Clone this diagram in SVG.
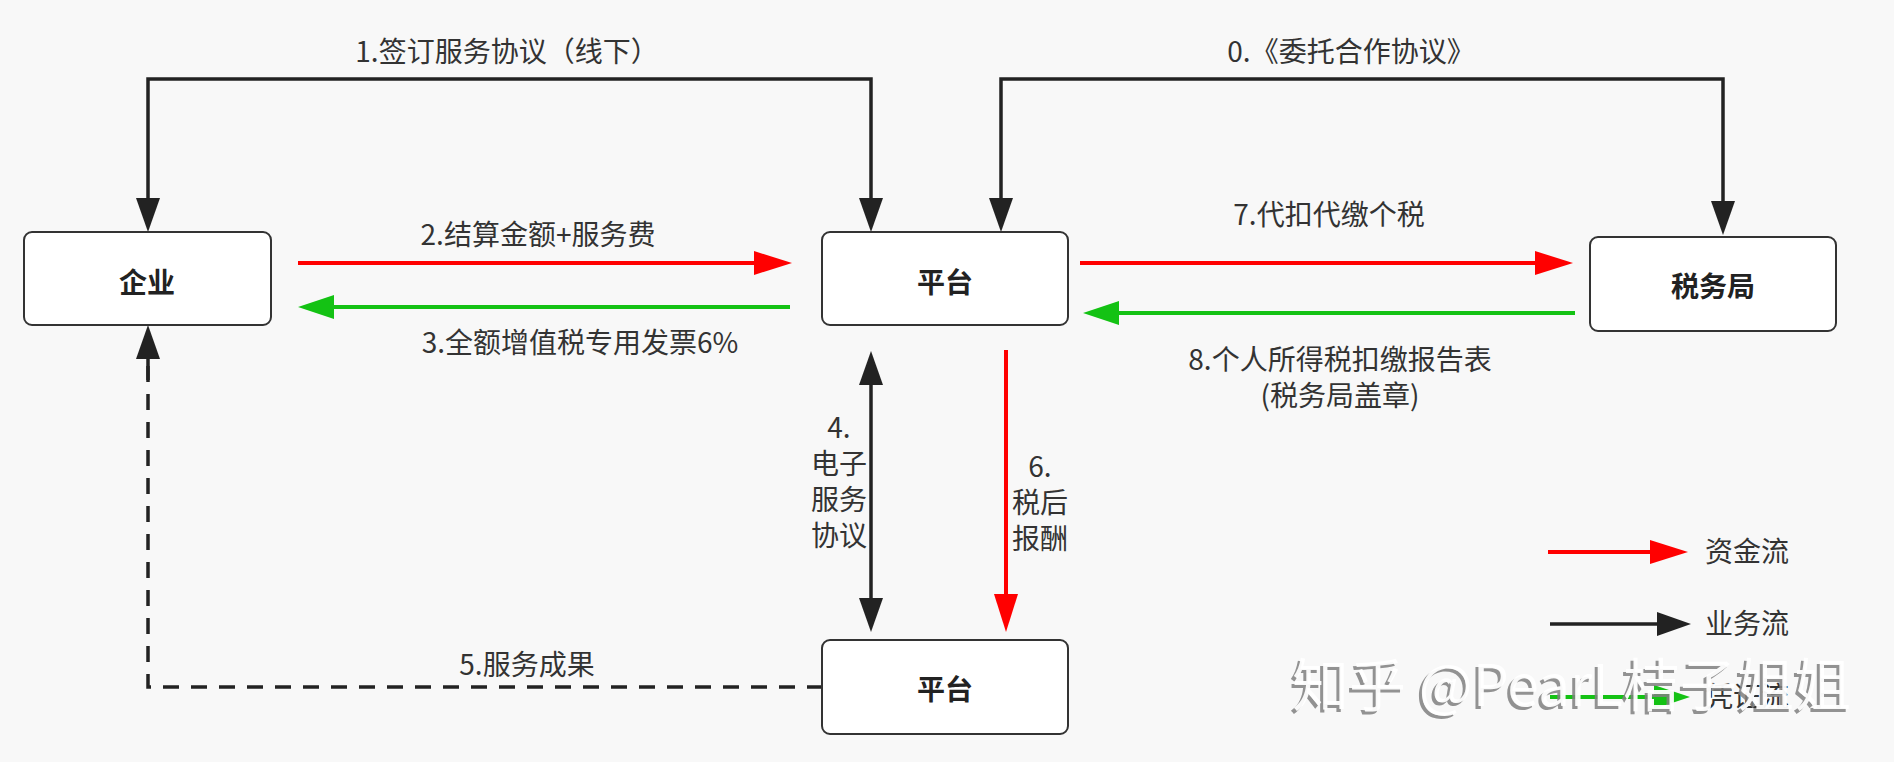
<svg xmlns="http://www.w3.org/2000/svg" width="1894" height="762" viewBox="0 0 1894 762">
<style>
.box{fill:#fff;stroke:#333;stroke-width:2}
.nt{font-family:"Noto Sans CJK SC","Noto Sans",sans-serif;font-size:28px;font-weight:bold;fill:#222;text-anchor:middle}
.lb{font-family:"Noto Sans CJK SC","Noto Sans",sans-serif;font-size:28px;fill:#333;text-anchor:middle}
.lg{font-family:"Noto Sans CJK SC","Noto Sans",sans-serif;font-size:28px;fill:#333}
.k{fill:none;stroke:#222;stroke-width:3.5}
.r{fill:none;stroke:#ff0000;stroke-width:4}
.g{fill:none;stroke:#14c214;stroke-width:4}
.d{fill:none;stroke:#222;stroke-width:3.5;stroke-dasharray:16 12}
.wm{font-family:"Noto Sans CJK SC","Noto Sans",sans-serif;font-size:57px}
</style>
<defs>
<marker id="ak" markerUnits="userSpaceOnUse" markerWidth="34" markerHeight="24" refX="24" refY="12" orient="auto-start-reverse"><path d="M0,0 L34,12 L0,24 z" fill="#222"/></marker>
<marker id="ar" markerUnits="userSpaceOnUse" markerWidth="38" markerHeight="24" refX="28" refY="12" orient="auto"><path d="M0,0 L38,12 L0,24 z" fill="#ff0000"/></marker>
<marker id="ag" markerUnits="userSpaceOnUse" markerWidth="36" markerHeight="24" refX="26" refY="12" orient="auto"><path d="M0,0 L36,12 L0,24 z" fill="#14c214"/></marker>
</defs>
<rect x="0" y="0" width="1894" height="762" fill="#f8f8f8"/>

<g id="connectors">
<path class="k" d="M148,222 V79 H871 V222" marker-start="url(#ak)" marker-end="url(#ak)"/>
<path class="k" d="M1001,222 V79 H1723 V225" marker-start="url(#ak)" marker-end="url(#ak)"/>
<path class="r" d="M298,263 H782" marker-end="url(#ar)"/>
<path class="g" d="M790,307 H308" marker-end="url(#ag)"/>
<path class="r" d="M1080,263 H1563" marker-end="url(#ar)"/>
<path class="g" d="M1575,313 H1093" marker-end="url(#ag)"/>
<path class="k" d="M871,361 V622" marker-start="url(#ak)" marker-end="url(#ak)"/>
<path class="r" d="M1006,350 V622" marker-end="url(#ar)"/>
<path class="d" d="M823,687 H148 V360"/>
<path class="k" d="M148,380 V335" marker-end="url(#ak)"/>
<text class="lb" x="507" y="62">1.签订服务协议（线下）</text>
<text class="lb" x="1351" y="62">0.《委托合作协议》</text>
<text class="lb" x="538" y="245">2.结算金额+服务费</text>
<text class="lb" x="580" y="353">3.全额增值税专用发票6%</text>
<text class="lb" x="1329" y="225">7.代扣代缴个税</text>
<text class="lb" x="1340" y="370">8.个人所得税扣缴报告表</text>
<text class="lb" x="1340" y="406">(税务局盖章)</text>
<text class="lb" x="839" y="438">4.<tspan x="839" dy="36">电子</tspan><tspan x="839" dy="36">服务</tspan><tspan x="839" dy="36">协议</tspan></text>
<text class="lb" x="1040" y="477">6.<tspan x="1040" dy="36">税后</tspan><tspan x="1040" dy="36">报酬</tspan></text>
<text class="lb" x="527" y="675">5.服务成果</text>
</g>

<g id="node-qiye">
<rect class="box" x="24" y="232" width="247" height="93" rx="8"/>
<text class="nt" x="147" y="293">企业</text>
</g>
<g id="node-pingtai-top">
<rect class="box" x="822" y="232" width="246" height="93" rx="8"/>
<text class="nt" x="945" y="293">平台</text>
</g>
<g id="node-shuiwuju">
<rect class="box" x="1590" y="237" width="246" height="94" rx="8"/>
<text class="nt" x="1713" y="297">税务局</text>
</g>
<g id="node-pingtai-bottom">
<rect class="box" x="822" y="640" width="246" height="94" rx="8"/>
<text class="nt" x="945" y="700">平台</text>
</g>

<g id="legend">
<path class="r" d="M1548,552 H1678" marker-end="url(#ar)"/>
<text class="lg" x="1705" y="562">资金流</text>
<path class="k" d="M1550,624 H1681" marker-end="url(#ak)"/>
<text class="lg" x="1705" y="634">业务流</text>
<path class="g" d="M1550,697 H1680" marker-end="url(#ag)"/>
<text class="lg" x="1705" y="707">凭证流</text>
</g>

<g id="watermark">
<text class="wm" x="1289" y="709" fill="#808080" fill-opacity="0.85">知乎 @PearL桔子姐姐</text>
<text class="wm" x="1292" y="706" fill="#ffffff" fill-opacity="0.95">知乎 @PearL桔子姐姐</text>
</g>
</svg>
